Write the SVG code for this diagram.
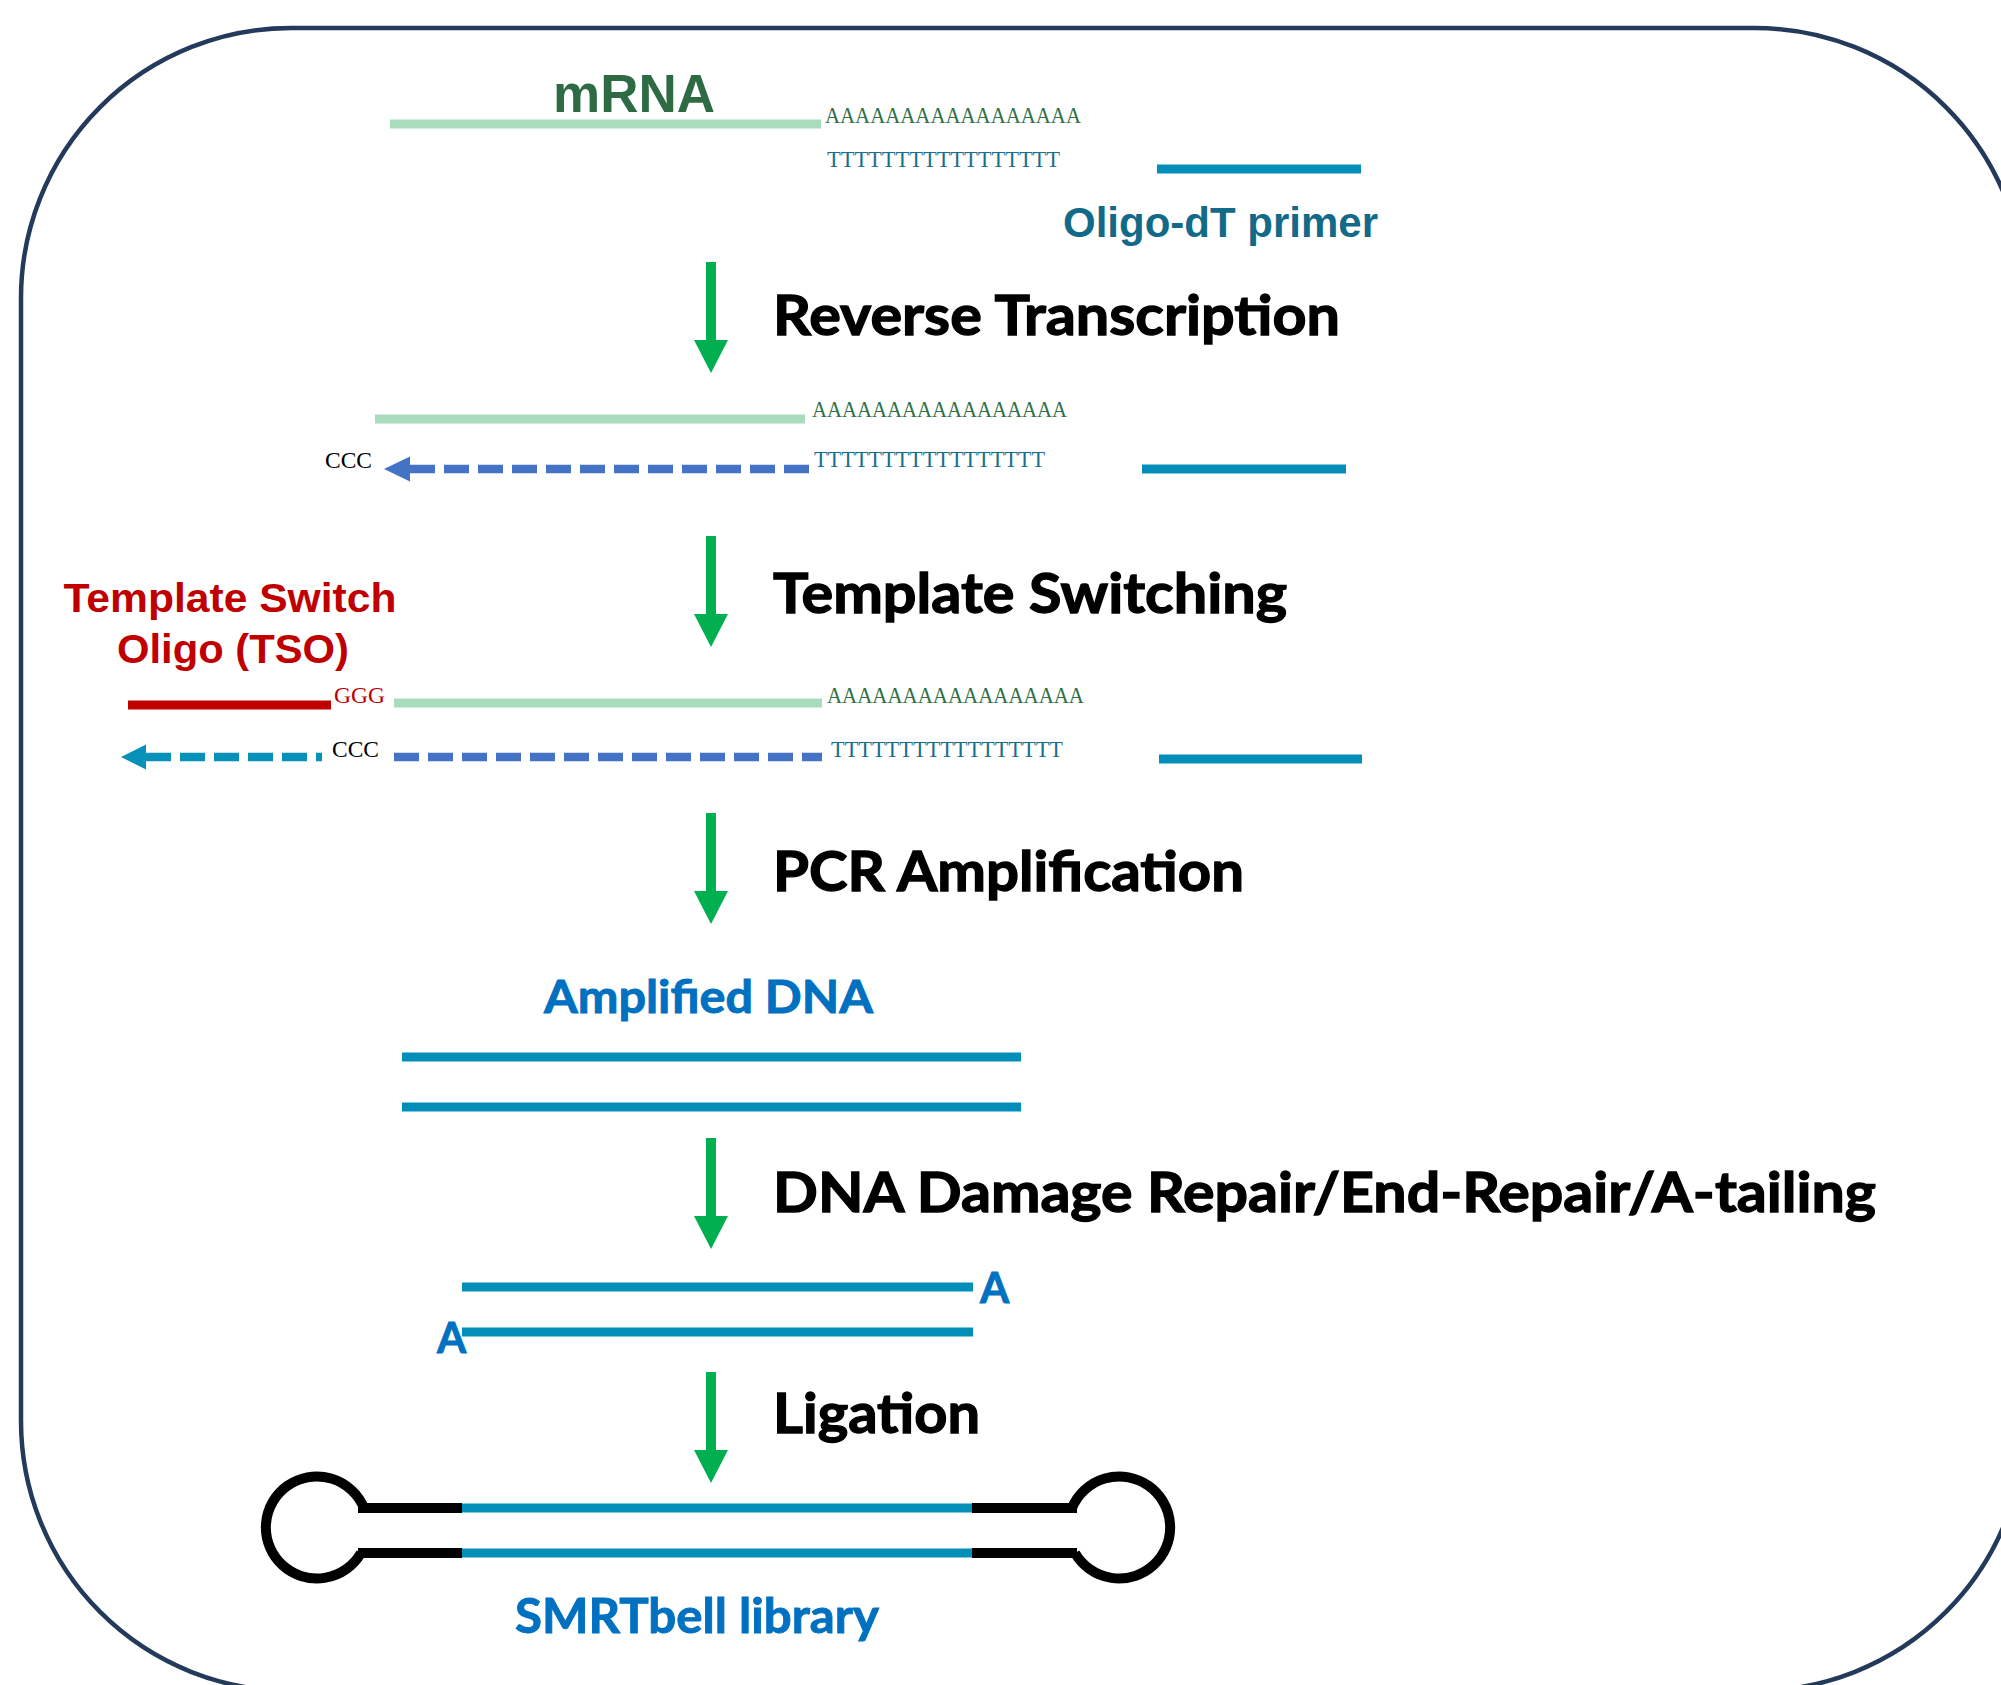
<svg xmlns="http://www.w3.org/2000/svg" width="2001" height="1685" viewBox="0 0 2001 1685">
<style>
.head{font-family:Lato,"Open Sans",sans-serif;font-weight:bold;font-size:56px;fill:#000;stroke:#000;stroke-width:1.3}
.blue{font-family:Lato,"Open Sans",sans-serif;font-weight:bold;fill:#0070c0;stroke:#0070c0;stroke-width:0.9}
.arial{font-family:"Liberation Sans",Arial,sans-serif;font-weight:bold}
.seq{font-family:"Liberation Serif","Times New Roman",serif;font-size:22.6px}
.aa{fill:#2f7048}
.tt{fill:#1a6f8e}
.mrna{stroke:#a8dcbc;stroke-width:9;fill:none}
.teal{stroke:#018fb9;stroke-width:9;fill:none}
.black{stroke:#000;stroke-width:10;fill:none}
</style>
<defs>
<path id="garrow" d="M-5,0 H5 V78 H17 L0,111 L-17,78 H-5 Z" fill="#00b050"/>
</defs>
<rect x="21" y="28" width="2004" height="1663" rx="270" ry="270" fill="#fff" stroke="#243a5a" stroke-width="4.5"/>

<g id="step0-mrna">
<line class="mrna" x1="390" y1="124" x2="821" y2="124"/>
<text class="arial" x="553" y="112" font-size="53" fill="#2e6b45" textLength="162" lengthAdjust="spacingAndGlyphs">mRNA</text>
<text class="seq aa" x="825" y="123" textLength="256" lengthAdjust="spacingAndGlyphs">AAAAAAAAAAAAAAAAA</text>
</g>
<g id="step0-primer">
<text class="seq tt" x="827" y="167" textLength="233" lengthAdjust="spacingAndGlyphs">TTTTTTTTTTTTTTTTT</text>
<line class="teal" x1="1157" y1="169" x2="1361" y2="169"/>
<text class="arial" x="1063" y="237" font-size="42" fill="#136a88" textLength="315" lengthAdjust="spacingAndGlyphs">Oligo-dT primer</text>
</g>

<g id="label-rt"><text class="head" x="773" y="335" textLength="567" lengthAdjust="spacingAndGlyphs">Reverse Transcription</text></g>

<g id="step1">
<line class="mrna" x1="375" y1="419" x2="805" y2="419"/>
<text class="seq aa" x="812" y="417" textLength="255" lengthAdjust="spacingAndGlyphs">AAAAAAAAAAAAAAAAA</text>
<text class="seq" x="325" y="468" fill="#000" textLength="47" lengthAdjust="spacingAndGlyphs">CCC</text>
<line x1="410" y1="469" x2="812" y2="469" stroke="#4472c4" stroke-width="8.5" stroke-dasharray="25 9"/>
<polygon points="384,469 410,456.5 410,481.5" fill="#4472c4"/>
<text class="seq tt" x="814" y="467" textLength="231" lengthAdjust="spacingAndGlyphs">TTTTTTTTTTTTTTTTT</text>
<line class="teal" x1="1142" y1="469" x2="1346" y2="469"/>
</g>

<g id="label-ts"><text class="head" x="773" y="613" textLength="514" lengthAdjust="spacingAndGlyphs">Template Switching</text></g>

<g id="tso-label">
<text class="arial" x="230" y="612" font-size="41" fill="#c00000" text-anchor="middle" textLength="333" lengthAdjust="spacingAndGlyphs">Template Switch</text>
<text class="arial" x="233" y="663" font-size="41" fill="#c00000" text-anchor="middle" textLength="232" lengthAdjust="spacingAndGlyphs">Oligo (TSO)</text>
</g>

<g id="step2">
<line x1="128" y1="705" x2="331" y2="705" stroke="#c00000" stroke-width="9"/>
<text class="seq" x="334" y="703" fill="#c00000" textLength="51" lengthAdjust="spacingAndGlyphs">GGG</text>
<line class="mrna" x1="394" y1="703" x2="822" y2="703"/>
<text class="seq aa" x="827" y="703" textLength="257" lengthAdjust="spacingAndGlyphs">AAAAAAAAAAAAAAAAA</text>
<polygon points="121,757 146,744.5 146,769.5" fill="#0891b8"/>
<line x1="146" y1="757" x2="322" y2="757" stroke="#0891b8" stroke-width="8.5" stroke-dasharray="25 9"/>
<text class="seq" x="332" y="757" fill="#000" textLength="47" lengthAdjust="spacingAndGlyphs">CCC</text>
<line x1="394" y1="757" x2="822" y2="757" stroke="#4472c4" stroke-width="8.5" stroke-dasharray="25 9"/>
<text class="seq tt" x="831" y="757" textLength="232" lengthAdjust="spacingAndGlyphs">TTTTTTTTTTTTTTTTT</text>
<line class="teal" x1="1159" y1="759" x2="1362" y2="759"/>
</g>

<g id="label-pcr"><text class="head" x="773" y="891" textLength="471" lengthAdjust="spacingAndGlyphs">PCR Amplification</text></g>

<g id="step3">
<text class="blue" x="544" y="1013" font-size="45" textLength="329" lengthAdjust="spacingAndGlyphs">Amplified DNA</text>
<line class="teal" x1="402" y1="1057" x2="1021" y2="1057"/>
<line class="teal" x1="402" y1="1107" x2="1021" y2="1107"/>
</g>

<g id="label-repair"><text class="head" x="773" y="1212" textLength="1103" lengthAdjust="spacingAndGlyphs">DNA Damage Repair/End-Repair/A-tailing</text></g>

<g id="step4">
<line class="teal" x1="462" y1="1287" x2="973" y2="1287"/>
<line class="teal" x1="462" y1="1332" x2="973" y2="1332"/>
<text class="blue" x="980" y="1303" font-size="42">A</text>
<text class="blue" x="437" y="1353" font-size="42">A</text>
</g>

<g id="label-ligation"><text class="head" x="773" y="1433" textLength="207" lengthAdjust="spacingAndGlyphs">Ligation</text></g>

<g id="step5-smrtbell">
<path class="black" stroke-width="11" d="M364,1508 A51,51 0 1 0 361,1553"/>
<path class="black" stroke-width="11" d="M1072,1508 A51,51 0 1 1 1075,1553"/>
<line class="black" x1="358" y1="1508" x2="462" y2="1508"/>
<line class="black" x1="358" y1="1553" x2="462" y2="1553"/>
<line class="black" x1="972" y1="1508" x2="1077" y2="1508"/>
<line class="black" x1="972" y1="1553" x2="1077" y2="1553"/>
<line class="teal" x1="462" y1="1508" x2="972" y2="1508"/>
<line class="teal" x1="462" y1="1553" x2="972" y2="1553"/>
<text class="blue" x="515" y="1633" font-size="47" textLength="364" lengthAdjust="spacingAndGlyphs">SMRTbell library</text>
</g>

<g id="connectors">
<use href="#garrow" x="711" y="262"/>
<use href="#garrow" x="711" y="536"/>
<use href="#garrow" x="711" y="813"/>
<use href="#garrow" x="711" y="1138"/>
<use href="#garrow" x="711" y="1372"/>
</g>
</svg>
